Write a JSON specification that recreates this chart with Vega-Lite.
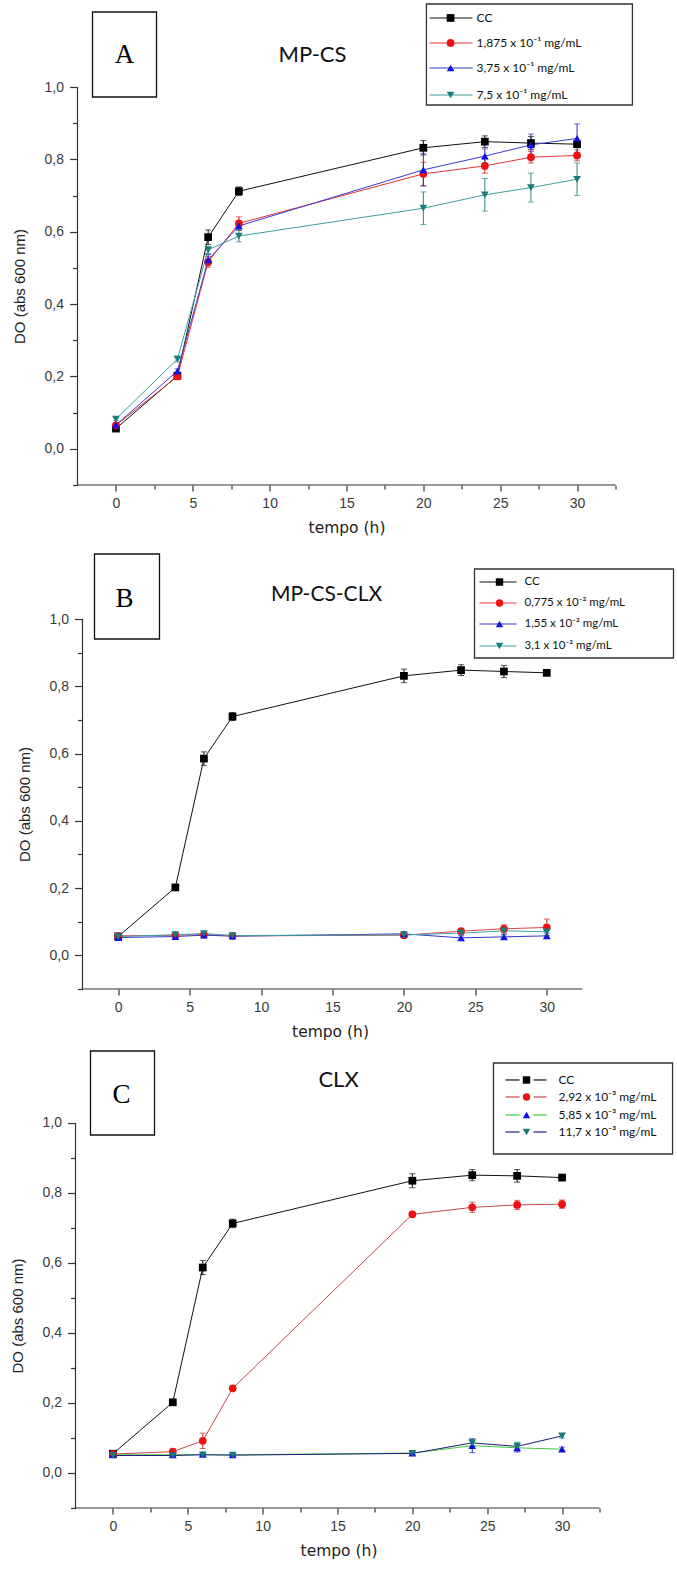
{
"$schema":"https://vega.github.io/schema/vega-lite/v6.json",
"padding":{"left":10.5,"top":0,"right":0,"bottom":0},
"background":"white",
"spacing":55,
"bounds":"flush",
"config":{"view":{"stroke":null},
 "axis":{"grid":false,"labelFont":"Liberation Sans","labelFontSize":14,"labelColor":"#3a3a3a","titleFont":"Liberation Sans","titleFontSize":15,"titleFontWeight":"normal","titleColor":"#222222","tickColor":"#333333","tickWidth":1.2,"labelFlush":false,"labelOverlap":false},
 "axisX":{"titleFont":"DejaVu Sans","titleFontSize":15.5}},
"datasets":{
"A":[
{"t":0,"v":0.056,"e":0.004,"s":"CC"},{"t":4,"v":0.202,"e":0.006,"s":"CC"},{"t":6,"v":0.585,"e":0.02,"s":"CC"},{"t":8,"v":0.712,"e":0.012,"s":"CC"},{"t":20,"v":0.832,"e":0.02,"s":"CC"},{"t":24,"v":0.849,"e":0.016,"s":"CC"},{"t":27,"v":0.845,"e":0.018,"s":"CC"},{"t":30,"v":0.842,"e":0.006,"s":"CC"},
{"t":0,"v":0.065,"e":0.004,"s":"1,875 x 10⁻¹ mg/mL"},{"t":4,"v":0.200,"e":0.006,"s":"1,875 x 10⁻¹ mg/mL"},{"t":6,"v":0.517,"e":0.015,"s":"1,875 x 10⁻¹ mg/mL"},{"t":8,"v":0.623,"e":0.018,"s":"1,875 x 10⁻¹ mg/mL"},{"t":20,"v":0.760,"e":0.032,"s":"1,875 x 10⁻¹ mg/mL"},{"t":24,"v":0.782,"e":0.02,"s":"1,875 x 10⁻¹ mg/mL"},{"t":27,"v":0.806,"e":0.016,"s":"1,875 x 10⁻¹ mg/mL"},{"t":30,"v":0.811,"e":0.015,"s":"1,875 x 10⁻¹ mg/mL"},
{"t":0,"v":0.066,"e":0.004,"s":"3,75 x 10⁻¹ mg/mL"},{"t":4,"v":0.215,"e":0.006,"s":"3,75 x 10⁻¹ mg/mL"},{"t":6,"v":0.522,"e":0.015,"s":"3,75 x 10⁻¹ mg/mL"},{"t":8,"v":0.616,"e":0.012,"s":"3,75 x 10⁻¹ mg/mL"},{"t":20,"v":0.771,"e":0.045,"s":"3,75 x 10⁻¹ mg/mL"},{"t":24,"v":0.809,"e":0.02,"s":"3,75 x 10⁻¹ mg/mL"},{"t":27,"v":0.840,"e":0.03,"s":"3,75 x 10⁻¹ mg/mL"},{"t":30,"v":0.858,"e":0.04,"s":"3,75 x 10⁻¹ mg/mL"},
{"t":0,"v":0.082,"e":0.004,"s":"7,5 x 10⁻¹ mg/mL"},{"t":4,"v":0.248,"e":0.008,"s":"7,5 x 10⁻¹ mg/mL"},{"t":6,"v":0.550,"e":0.01,"s":"7,5 x 10⁻¹ mg/mL"},{"t":8,"v":0.588,"e":0.016,"s":"7,5 x 10⁻¹ mg/mL"},{"t":20,"v":0.665,"e":0.045,"s":"7,5 x 10⁻¹ mg/mL"},{"t":24,"v":0.702,"e":0.045,"s":"7,5 x 10⁻¹ mg/mL"},{"t":27,"v":0.722,"e":0.04,"s":"7,5 x 10⁻¹ mg/mL"},{"t":30,"v":0.745,"e":0.045,"s":"7,5 x 10⁻¹ mg/mL"}],
"B":[
{"t":0,"v":0.056,"e":0.004,"s":"CC"},{"t":4,"v":0.202,"e":0.006,"s":"CC"},{"t":6,"v":0.585,"e":0.02,"s":"CC"},{"t":8,"v":0.710,"e":0.012,"s":"CC"},{"t":20,"v":0.831,"e":0.02,"s":"CC"},{"t":24,"v":0.848,"e":0.016,"s":"CC"},{"t":27,"v":0.844,"e":0.018,"s":"CC"},{"t":30,"v":0.840,"e":0.006,"s":"CC"},
{"t":0,"v":0.058,"e":0.003,"s":"0,775 x 10⁻² mg/mL"},{"t":4,"v":0.060,"e":0.003,"s":"0,775 x 10⁻² mg/mL"},{"t":6,"v":0.062,"e":0.004,"s":"0,775 x 10⁻² mg/mL"},{"t":8,"v":0.058,"e":0.003,"s":"0,775 x 10⁻² mg/mL"},{"t":20,"v":0.060,"e":0.004,"s":"0,775 x 10⁻² mg/mL"},{"t":24,"v":0.072,"e":0.006,"s":"0,775 x 10⁻² mg/mL"},{"t":27,"v":0.079,"e":0.012,"s":"0,775 x 10⁻² mg/mL"},{"t":30,"v":0.083,"e":0.025,"s":"0,775 x 10⁻² mg/mL"},
{"t":0,"v":0.053,"e":0.003,"s":"1,55 x 10⁻² mg/mL"},{"t":4,"v":0.056,"e":0.003,"s":"1,55 x 10⁻² mg/mL"},{"t":6,"v":0.060,"e":0.004,"s":"1,55 x 10⁻² mg/mL"},{"t":8,"v":0.057,"e":0.003,"s":"1,55 x 10⁻² mg/mL"},{"t":20,"v":0.064,"e":0.006,"s":"1,55 x 10⁻² mg/mL"},{"t":24,"v":0.052,"e":0.006,"s":"1,55 x 10⁻² mg/mL"},{"t":27,"v":0.055,"e":0.006,"s":"1,55 x 10⁻² mg/mL"},{"t":30,"v":0.058,"e":0.008,"s":"1,55 x 10⁻² mg/mL"},
{"t":0,"v":0.056,"e":0.003,"s":"3,1 x 10⁻² mg/mL"},{"t":4,"v":0.061,"e":0.003,"s":"3,1 x 10⁻² mg/mL"},{"t":6,"v":0.065,"e":0.004,"s":"3,1 x 10⁻² mg/mL"},{"t":8,"v":0.059,"e":0.003,"s":"3,1 x 10⁻² mg/mL"},{"t":20,"v":0.061,"e":0.004,"s":"3,1 x 10⁻² mg/mL"},{"t":24,"v":0.066,"e":0.005,"s":"3,1 x 10⁻² mg/mL"},{"t":27,"v":0.073,"e":0.01,"s":"3,1 x 10⁻² mg/mL"},{"t":30,"v":0.070,"e":0.01,"s":"3,1 x 10⁻² mg/mL"}],
"C":[
{"t":0,"v":0.055,"e":0.004,"s":"CC"},{"t":4,"v":0.202,"e":0.006,"s":"CC"},{"t":6,"v":0.587,"e":0.02,"s":"CC"},{"t":8,"v":0.713,"e":0.012,"s":"CC"},{"t":20,"v":0.835,"e":0.02,"s":"CC"},{"t":24,"v":0.851,"e":0.016,"s":"CC"},{"t":27,"v":0.849,"e":0.018,"s":"CC"},{"t":30,"v":0.844,"e":0.006,"s":"CC"},
{"t":0,"v":0.054,"e":0.003,"s":"2,92 x 10⁻³ mg/mL"},{"t":4,"v":0.061,"e":0.004,"s":"2,92 x 10⁻³ mg/mL"},{"t":6,"v":0.092,"e":0.022,"s":"2,92 x 10⁻³ mg/mL"},{"t":8,"v":0.242,"e":0.006,"s":"2,92 x 10⁻³ mg/mL"},{"t":20,"v":0.739,"e":0.006,"s":"2,92 x 10⁻³ mg/mL"},{"t":24,"v":0.759,"e":0.015,"s":"2,92 x 10⁻³ mg/mL"},{"t":27,"v":0.766,"e":0.013,"s":"2,92 x 10⁻³ mg/mL"},{"t":30,"v":0.768,"e":0.012,"s":"2,92 x 10⁻³ mg/mL"},
{"t":0,"v":0.052,"e":0.003,"s":"5,85 x 10⁻³ mg/mL"},{"t":4,"v":0.052,"e":0.003,"s":"5,85 x 10⁻³ mg/mL"},{"t":6,"v":0.053,"e":0.003,"s":"5,85 x 10⁻³ mg/mL"},{"t":8,"v":0.052,"e":0.003,"s":"5,85 x 10⁻³ mg/mL"},{"t":20,"v":0.057,"e":0.004,"s":"5,85 x 10⁻³ mg/mL"},{"t":24,"v":0.078,"e":0.02,"s":"5,85 x 10⁻³ mg/mL"},{"t":27,"v":0.072,"e":0.012,"s":"5,85 x 10⁻³ mg/mL"},{"t":30,"v":0.068,"e":0.006,"s":"5,85 x 10⁻³ mg/mL"},
{"t":0,"v":0.050,"e":0.003,"s":"11,7 x 10⁻³ mg/mL"},{"t":4,"v":0.050,"e":0.003,"s":"11,7 x 10⁻³ mg/mL"},{"t":6,"v":0.052,"e":0.003,"s":"11,7 x 10⁻³ mg/mL"},{"t":8,"v":0.051,"e":0.003,"s":"11,7 x 10⁻³ mg/mL"},{"t":20,"v":0.056,"e":0.004,"s":"11,7 x 10⁻³ mg/mL"},{"t":24,"v":0.086,"e":0.01,"s":"11,7 x 10⁻³ mg/mL"},{"t":27,"v":0.076,"e":0.012,"s":"11,7 x 10⁻³ mg/mL"},{"t":30,"v":0.106,"e":0.006,"s":"11,7 x 10⁻³ mg/mL"}]
},
"vconcat":[
{
 "width":538,"height":485,
 "data":{"values":[{}]},
 "layer":[
  {"data":{"name":"A"},"mark":{"type":"line","strokeWidth":1},
   "encoding":{
    "x":{"field":"t","type":"quantitative","title":"tempo (h)","scale":{"domain":[-2.5,32.5],"nice":false,"zero":false},
      "axis":{"orient":"bottom","domain":false,"values":[0,2.5,5,7.5,10,12.5,15,17.5,20,22.5,25,27.5,30,32.5],"labelExpr":"datum.value % 5 == 0 ? format(datum.value, 'd') : ''","tickSize":{"condition":{"test":"datum.value % 5 != 0","value":4},"value":6},"labelPadding":5,"titlePadding":10}},
    "y":{"field":"v","type":"quantitative","title":"DO (abs 600 nm)","scale":{"domain":[-0.1,1.2405],"nice":false,"zero":false},
      "axis":{"orient":"left","domain":false,"offset":0,"values":[-0.1,0,0.1,0.2,0.3,0.4,0.5,0.6,0.7,0.8,0.9,1.0],"labelExpr":"round(datum.value*10) % 2 != 0 ? '' : replace(format(datum.value, '.1f'), '.', ',')","tickSize":{"condition":{"test":"round(datum.value*10) % 2 != 0","value":5},"value":8},"labelPadding":6,"titleX":-58,"titleY":286,"titleAngle":-90,"titleBaseline":"middle","titleAlign":"center"}},
    "stroke":{"field":"s","type":"nominal","scale":{"domain":["CC","1,875 x 10⁻¹ mg/mL","3,75 x 10⁻¹ mg/mL","7,5 x 10⁻¹ mg/mL"],"range":["#111111","#e03434","#3b3bcc","#3f9e9e"]},"legend":null}}},
  {"data":{"name":"A"},"mark":{"type":"errorbar","ticks":{"size":6},"thickness":1},
   "encoding":{"x":{"field":"t","type":"quantitative","title":"tempo (h)"},"y":{"field":"v","type":"quantitative","title":"DO (abs 600 nm)"},"yError":{"field":"e"},
    "color":{"field":"s","type":"nominal","scale":{"domain":["CC","1,875 x 10⁻¹ mg/mL","3,75 x 10⁻¹ mg/mL","7,5 x 10⁻¹ mg/mL"],"range":["#111111","#cc2020","#3030b8","#2a8585"]},"legend":null}}},
  {"data":{"name":"A"},"mark":{"type":"point","filled":true,"opacity":1,"size":60,"strokeWidth":0},
   "encoding":{"x":{"field":"t","type":"quantitative","title":"tempo (h)"},"y":{"field":"v","type":"quantitative","title":"DO (abs 600 nm)"},
    "shape":{"field":"s","type":"nominal","scale":{"domain":["CC","1,875 x 10⁻¹ mg/mL","3,75 x 10⁻¹ mg/mL","7,5 x 10⁻¹ mg/mL"],"range":["square","circle","triangle-up","triangle-down"]},"legend":null},
    "fill":{"field":"s","type":"nominal","scale":{"domain":["CC","1,875 x 10⁻¹ mg/mL","3,75 x 10⁻¹ mg/mL","7,5 x 10⁻¹ mg/mL"],"range":["#000000","#ee1111","#1212e8","#1b7c7c"]},"legend":null}}},
  {"mark":{"type":"rule","color":"#333333","strokeWidth":1.2},"encoding":{"x":{"datum":-2.5},"y":{"datum":-0.1},"y2":{"datum":1.0}}},
  {"mark":{"type":"rule","color":"#333333","strokeWidth":1.2},"encoding":{"x":{"datum":-2.5},"x2":{"datum":32.5},"y":{"datum":-0.1}}},
  {"mark":{"type":"rect","filled":false,"stroke":"#111111","strokeWidth":1.3},"encoding":{"x":{"datum":-1.524},"x2":{"datum":2.64},"y":{"datum":1.2073},"y2":{"datum":0.9724}}},
  {"mark":{"type":"text","text":"A","font":"Liberation Serif","fontSize":27,"align":"center","baseline":"middle","color":"#000000"},"encoding":{"x":{"datum":0.558},"y":{"datum":1.0885}}},
  {"mark":{"type":"text","text":"MP-CS","font":"Lato","fontSize":22,"align":"center","baseline":"middle","color":"#111111"},"encoding":{"x":{"datum":12.79},"y":{"datum":1.0885}}},
  {"mark":{"type":"rect","filled":false,"stroke":"#333333","strokeWidth":1.3},"encoding":{"x":{"datum":20.2},"x2":{"datum":33.6},"y":{"datum":1.2295},"y2":{"datum":0.9503}}},
  {"mark":{"type":"rule","color":"#111111","strokeWidth":1.2},"encoding":{"x":{"datum":20.4},"x2":{"datum":23.2},"y":{"datum":1.1908}}},
  {"mark":{"type":"rule","color":"#e03434","strokeWidth":1.2},"encoding":{"x":{"datum":20.4},"x2":{"datum":23.2},"y":{"datum":1.1217}}},
  {"mark":{"type":"rule","color":"#3b3bcc","strokeWidth":1.2},"encoding":{"x":{"datum":20.4},"x2":{"datum":23.2},"y":{"datum":1.0526}}},
  {"mark":{"type":"rule","color":"#3f9e9e","strokeWidth":1.2},"encoding":{"x":{"datum":20.4},"x2":{"datum":23.2},"y":{"datum":0.9779}}},
  {"mark":{"type":"point","shape":"square","filled":true,"color":"#000000","opacity":1,"size":60,"strokeWidth":0},"encoding":{"x":{"datum":21.77},"y":{"datum":1.1908}}},
  {"mark":{"type":"point","shape":"circle","filled":true,"color":"#ee1111","opacity":1,"size":60,"strokeWidth":0},"encoding":{"x":{"datum":21.77},"y":{"datum":1.1217}}},
  {"mark":{"type":"point","shape":"triangle-up","filled":true,"color":"#1212e8","opacity":1,"size":60,"strokeWidth":0},"encoding":{"x":{"datum":21.77},"y":{"datum":1.0526}}},
  {"mark":{"type":"point","shape":"triangle-down","filled":true,"color":"#1b7c7c","opacity":1,"size":60,"strokeWidth":0},"encoding":{"x":{"datum":21.77},"y":{"datum":0.9779}}},
  {"mark":{"type":"text","text":"CC","align":"left","baseline":"middle","font":"Lato","fontSize":12,"color":"#111111"},"encoding":{"x":{"datum":23.46},"y":{"datum":1.1908}}},
  {"mark":{"type":"text","text":"1,875 x 10⁻¹ mg/mL","align":"left","baseline":"middle","font":"Lato","fontSize":12,"color":"#111111"},"encoding":{"x":{"datum":23.46},"y":{"datum":1.1217}}},
  {"mark":{"type":"text","text":"3,75 x 10⁻¹ mg/mL","align":"left","baseline":"middle","font":"Lato","fontSize":12,"color":"#111111"},"encoding":{"x":{"datum":23.46},"y":{"datum":1.0526}}},
  {"mark":{"type":"text","text":"7,5 x 10⁻¹ mg/mL","align":"left","baseline":"middle","font":"Lato","fontSize":12,"color":"#111111"},"encoding":{"x":{"datum":23.46},"y":{"datum":0.9779}}}
 ]
},
{
 "width":505,"height":449,
 "data":{"values":[{}]},
 "layer":[
  {"data":{"name":"B"},"mark":{"type":"line","strokeWidth":1},
   "encoding":{
    "x":{"field":"t","type":"quantitative","title":"tempo (h)","scale":{"domain":[-2.85,32.5],"nice":false,"zero":false},
      "axis":{"orient":"bottom","domain":false,"values":[0,2.5,5,7.5,10,12.5,15,17.5,20,22.5,25,27.5,30,32.5],"labelExpr":"datum.value % 5 == 0 ? format(datum.value, 'd') : ''","tickSize":{"condition":{"test":"datum.value % 5 != 0","value":4},"value":6},"labelPadding":5,"titlePadding":10}},
    "y":{"field":"v","type":"quantitative","title":"DO (abs 600 nm)","scale":{"domain":[-0.1,1.2349],"nice":false,"zero":false},
      "axis":{"orient":"left","domain":false,"offset":-5,"values":[-0.1,0,0.1,0.2,0.3,0.4,0.5,0.6,0.7,0.8,0.9,1.0],"labelExpr":"round(datum.value*10) % 2 != 0 ? '' : replace(format(datum.value, '.1f'), '.', ',')","tickSize":{"condition":{"test":"round(datum.value*10) % 2 != 0","value":5},"value":8},"labelPadding":6,"titleX":-58,"titleY":264,"titleAngle":-90,"titleBaseline":"middle","titleAlign":"center"}},
    "stroke":{"field":"s","type":"nominal","scale":{"domain":["CC","0,775 x 10⁻² mg/mL","1,55 x 10⁻² mg/mL","3,1 x 10⁻² mg/mL"],"range":["#111111","#e04444","#3535c8","#40a4a4"]},"legend":null}}},
  {"data":{"name":"B"},"mark":{"type":"errorbar","ticks":{"size":6},"thickness":1},
   "encoding":{"x":{"field":"t","type":"quantitative","title":"tempo (h)"},"y":{"field":"v","type":"quantitative","title":"DO (abs 600 nm)"},"yError":{"field":"e"},
    "color":{"field":"s","type":"nominal","scale":{"domain":["CC","0,775 x 10⁻² mg/mL","1,55 x 10⁻² mg/mL","3,1 x 10⁻² mg/mL"],"range":["#111111","#cc2020","#3030b8","#2a8585"]},"legend":null}}},
  {"data":{"name":"B"},"mark":{"type":"point","filled":true,"opacity":1,"size":60,"strokeWidth":0},
   "encoding":{"x":{"field":"t","type":"quantitative","title":"tempo (h)"},"y":{"field":"v","type":"quantitative","title":"DO (abs 600 nm)"},
    "shape":{"field":"s","type":"nominal","scale":{"domain":["CC","0,775 x 10⁻² mg/mL","1,55 x 10⁻² mg/mL","3,1 x 10⁻² mg/mL"],"range":["square","circle","triangle-up","triangle-down"]},"legend":null},
    "fill":{"field":"s","type":"nominal","scale":{"domain":["CC","0,775 x 10⁻² mg/mL","1,55 x 10⁻² mg/mL","3,1 x 10⁻² mg/mL"],"range":["#000000","#ee1111","#1212e8","#1b7c7c"]},"legend":null}}},
  {"mark":{"type":"rule","color":"#333333","strokeWidth":1.2},"encoding":{"x":{"datum":-2.5},"y":{"datum":-0.1},"y2":{"datum":1.0}}},
  {"mark":{"type":"rule","color":"#333333","strokeWidth":1.2},"encoding":{"x":{"datum":-2.5},"x2":{"datum":32.5},"y":{"datum":-0.1}}},
  {"mark":{"type":"rect","filled":false,"stroke":"#111111","strokeWidth":1.3},"encoding":{"x":{"datum":-1.66},"x2":{"datum":2.89},"y":{"datum":1.1933},"y2":{"datum":0.9406}}},
  {"mark":{"type":"text","text":"B","font":"Liberation Serif","fontSize":27,"align":"center","baseline":"middle","color":"#000000"},"encoding":{"x":{"datum":0.44},"y":{"datum":1.0595}}},
  {"mark":{"type":"text","text":"MP-CS-CLX","font":"Lato","fontSize":21,"align":"center","baseline":"middle","color":"#111111"},"encoding":{"x":{"datum":14.58},"y":{"datum":1.0714}}},
  {"mark":{"type":"rect","filled":false,"stroke":"#333333","strokeWidth":1.3},"encoding":{"x":{"datum":24.94},"x2":{"datum":38.87},"y":{"datum":1.1487},"y2":{"datum":0.8841}}},
  {"mark":{"type":"rule","color":"#111111","strokeWidth":1.2},"encoding":{"x":{"datum":25.29},"x2":{"datum":27.88},"y":{"datum":1.1100}}},
  {"mark":{"type":"rule","color":"#e04444","strokeWidth":1.2},"encoding":{"x":{"datum":25.29},"x2":{"datum":27.88},"y":{"datum":1.0476}}},
  {"mark":{"type":"rule","color":"#3535c8","strokeWidth":1.2},"encoding":{"x":{"datum":25.29},"x2":{"datum":27.88},"y":{"datum":0.9851}}},
  {"mark":{"type":"rule","color":"#40a4a4","strokeWidth":1.2},"encoding":{"x":{"datum":25.29},"x2":{"datum":27.88},"y":{"datum":0.9197}}},
  {"mark":{"type":"point","shape":"square","filled":true,"color":"#000000","opacity":1,"size":55,"strokeWidth":0},"encoding":{"x":{"datum":26.69},"y":{"datum":1.1100}}},
  {"mark":{"type":"point","shape":"circle","filled":true,"color":"#ee1111","opacity":1,"size":55,"strokeWidth":0},"encoding":{"x":{"datum":26.69},"y":{"datum":1.0476}}},
  {"mark":{"type":"point","shape":"triangle-up","filled":true,"color":"#1212e8","opacity":1,"size":55,"strokeWidth":0},"encoding":{"x":{"datum":26.69},"y":{"datum":0.9851}}},
  {"mark":{"type":"point","shape":"triangle-down","filled":true,"color":"#1b7c7c","opacity":1,"size":55,"strokeWidth":0},"encoding":{"x":{"datum":26.69},"y":{"datum":0.9197}}},
  {"mark":{"type":"text","text":"CC","align":"left","baseline":"middle","font":"Lato","fontSize":11.5,"color":"#111111"},"encoding":{"x":{"datum":28.44},"y":{"datum":1.1100}}},
  {"mark":{"type":"text","text":"0,775 x 10⁻² mg/mL","align":"left","baseline":"middle","font":"Lato","fontSize":11.5,"color":"#111111"},"encoding":{"x":{"datum":28.44},"y":{"datum":1.0476}}},
  {"mark":{"type":"text","text":"1,55 x 10⁻² mg/mL","align":"left","baseline":"middle","font":"Lato","fontSize":11.5,"color":"#111111"},"encoding":{"x":{"datum":28.44},"y":{"datum":0.9851}}},
  {"mark":{"type":"text","text":"3,1 x 10⁻² mg/mL","align":"left","baseline":"middle","font":"Lato","fontSize":11.5,"color":"#111111"},"encoding":{"x":{"datum":28.44},"y":{"datum":0.9197}}}
 ]
},
{
 "width":522,"height":464,
 "data":{"values":[{}]},
 "layer":[
  {"data":{"name":"C"},"mark":{"type":"line","strokeWidth":1},
   "encoding":{
    "x":{"field":"t","type":"quantitative","title":"tempo (h)","scale":{"domain":[-2.3664,32.5],"nice":false,"zero":false},
      "axis":{"orient":"bottom","domain":false,"values":[0,2.5,5,7.5,10,12.5,15,17.5,20,22.5,25,27.5,30,32.5],"labelExpr":"datum.value % 5 == 0 ? format(datum.value, 'd') : ''","tickSize":{"condition":{"test":"datum.value % 5 != 0","value":4},"value":6},"labelPadding":5,"titlePadding":10}},
    "y":{"field":"v","type":"quantitative","title":"DO (abs 600 nm)","scale":{"domain":[-0.1,1.2257],"nice":false,"zero":false},
      "axis":{"orient":"left","domain":false,"offset":2,"values":[-0.1,0,0.1,0.2,0.3,0.4,0.5,0.6,0.7,0.8,0.9,1.0],"labelExpr":"round(datum.value*10) % 2 != 0 ? '' : replace(format(datum.value, '.1f'), '.', ',')","tickSize":{"condition":{"test":"round(datum.value*10) % 2 != 0","value":5},"value":8},"labelPadding":6,"titleX":-58,"titleY":271.5,"titleAngle":-90,"titleBaseline":"middle","titleAlign":"center"}},
    "stroke":{"field":"s","type":"nominal","scale":{"domain":["CC","2,92 x 10⁻³ mg/mL","5,85 x 10⁻³ mg/mL","11,7 x 10⁻³ mg/mL"],"range":["#111111","#c04848","#3ccc3c","#1e1e7a"]},"legend":null}}},
  {"data":{"name":"C"},"mark":{"type":"errorbar","ticks":{"size":6},"thickness":1},
   "encoding":{"x":{"field":"t","type":"quantitative","title":"tempo (h)"},"y":{"field":"v","type":"quantitative","title":"DO (abs 600 nm)"},"yError":{"field":"e"},
    "color":{"field":"s","type":"nominal","scale":{"domain":["CC","2,92 x 10⁻³ mg/mL","5,85 x 10⁻³ mg/mL","11,7 x 10⁻³ mg/mL"],"range":["#111111","#c03030","#2424b0","#1b6b6b"]},"legend":null}}},
  {"data":{"name":"C"},"mark":{"type":"point","filled":true,"opacity":1,"size":60,"strokeWidth":0},
   "encoding":{"x":{"field":"t","type":"quantitative","title":"tempo (h)"},"y":{"field":"v","type":"quantitative","title":"DO (abs 600 nm)"},
    "shape":{"field":"s","type":"nominal","scale":{"domain":["CC","2,92 x 10⁻³ mg/mL","5,85 x 10⁻³ mg/mL","11,7 x 10⁻³ mg/mL"],"range":["square","circle","triangle-up","triangle-down"]},"legend":null},
    "fill":{"field":"s","type":"nominal","scale":{"domain":["CC","2,92 x 10⁻³ mg/mL","5,85 x 10⁻³ mg/mL","11,7 x 10⁻³ mg/mL"],"range":["#000000","#ee1111","#1010e6","#1b7878"]},"legend":null}}},
  {"mark":{"type":"rule","color":"#333333","strokeWidth":1.2},"encoding":{"x":{"datum":-2.5},"y":{"datum":-0.1},"y2":{"datum":1.0}}},
  {"mark":{"type":"rule","color":"#333333","strokeWidth":1.2},"encoding":{"x":{"datum":-2.5},"x2":{"datum":32.5},"y":{"datum":-0.1}}},
  {"mark":{"type":"rect","filled":false,"stroke":"#111111","strokeWidth":1.3},"encoding":{"x":{"datum":-1.498},"x2":{"datum":2.777},"y":{"datum":1.2057},"y2":{"datum":0.9657}}},
  {"mark":{"type":"text","text":"C","font":"Liberation Serif","fontSize":27,"align":"center","baseline":"middle","color":"#000000"},"encoding":{"x":{"datum":0.573},"y":{"datum":1.08}}},
  {"mark":{"type":"text","text":"CLX","font":"Lato","fontSize":22,"align":"center","baseline":"middle","color":"#111111"},"encoding":{"x":{"datum":15.07},"y":{"datum":1.1229}}},
  {"mark":{"type":"rect","filled":false,"stroke":"#333333","strokeWidth":1.3},"encoding":{"x":{"datum":25.42},"x2":{"datum":37.38},"y":{"datum":1.1714},"y2":{"datum":0.9114}}},
  {"mark":{"type":"rule","color":"#111111","strokeWidth":1.2},"encoding":{"x":{"datum":26.22},"x2":{"datum":27.16},"y":{"datum":1.1229}}},
  {"mark":{"type":"rule","color":"#111111","strokeWidth":1.2},"encoding":{"x":{"datum":28.09},"x2":{"datum":28.96},"y":{"datum":1.1229}}},
  {"mark":{"type":"rule","color":"#c04848","strokeWidth":1.2},"encoding":{"x":{"datum":26.22},"x2":{"datum":27.16},"y":{"datum":1.0743}}},
  {"mark":{"type":"rule","color":"#c04848","strokeWidth":1.2},"encoding":{"x":{"datum":28.09},"x2":{"datum":28.96},"y":{"datum":1.0743}}},
  {"mark":{"type":"rule","color":"#3ccc3c","strokeWidth":1.2},"encoding":{"x":{"datum":26.22},"x2":{"datum":27.16},"y":{"datum":1.0229}}},
  {"mark":{"type":"rule","color":"#3ccc3c","strokeWidth":1.2},"encoding":{"x":{"datum":28.09},"x2":{"datum":28.96},"y":{"datum":1.0229}}},
  {"mark":{"type":"rule","color":"#1e1e7a","strokeWidth":1.2},"encoding":{"x":{"datum":26.22},"x2":{"datum":27.16},"y":{"datum":0.9743}}},
  {"mark":{"type":"rule","color":"#1e1e7a","strokeWidth":1.2},"encoding":{"x":{"datum":28.09},"x2":{"datum":28.96},"y":{"datum":0.9743}}},
  {"mark":{"type":"point","shape":"square","filled":true,"color":"#000000","opacity":1,"size":55,"strokeWidth":0},"encoding":{"x":{"datum":27.625},"y":{"datum":1.1229}}},
  {"mark":{"type":"point","shape":"circle","filled":true,"color":"#ee1111","opacity":1,"size":55,"strokeWidth":0},"encoding":{"x":{"datum":27.625},"y":{"datum":1.0743}}},
  {"mark":{"type":"point","shape":"triangle-up","filled":true,"color":"#1010e6","opacity":1,"size":55,"strokeWidth":0},"encoding":{"x":{"datum":27.625},"y":{"datum":1.0229}}},
  {"mark":{"type":"point","shape":"triangle-down","filled":true,"color":"#1b7878","opacity":1,"size":55,"strokeWidth":0},"encoding":{"x":{"datum":27.625},"y":{"datum":0.9743}}},
  {"mark":{"type":"text","text":"CC","align":"left","baseline":"middle","font":"Lato","fontSize":12,"color":"#111111"},"encoding":{"x":{"datum":29.76},"y":{"datum":1.1229}}},
  {"mark":{"type":"text","text":"2,92 x 10⁻³ mg/mL","align":"left","baseline":"middle","font":"Lato","fontSize":12,"color":"#111111"},"encoding":{"x":{"datum":29.76},"y":{"datum":1.0743}}},
  {"mark":{"type":"text","text":"5,85 x 10⁻³ mg/mL","align":"left","baseline":"middle","font":"Lato","fontSize":12,"color":"#111111"},"encoding":{"x":{"datum":29.76},"y":{"datum":1.0229}}},
  {"mark":{"type":"text","text":"11,7 x 10⁻³ mg/mL","align":"left","baseline":"middle","font":"Lato","fontSize":12,"color":"#111111"},"encoding":{"x":{"datum":29.76},"y":{"datum":0.9743}}}
 ]
}
],
"resolve":{"scale":{"stroke":"independent","fill":"independent","shape":"independent","color":"independent"}}
}
